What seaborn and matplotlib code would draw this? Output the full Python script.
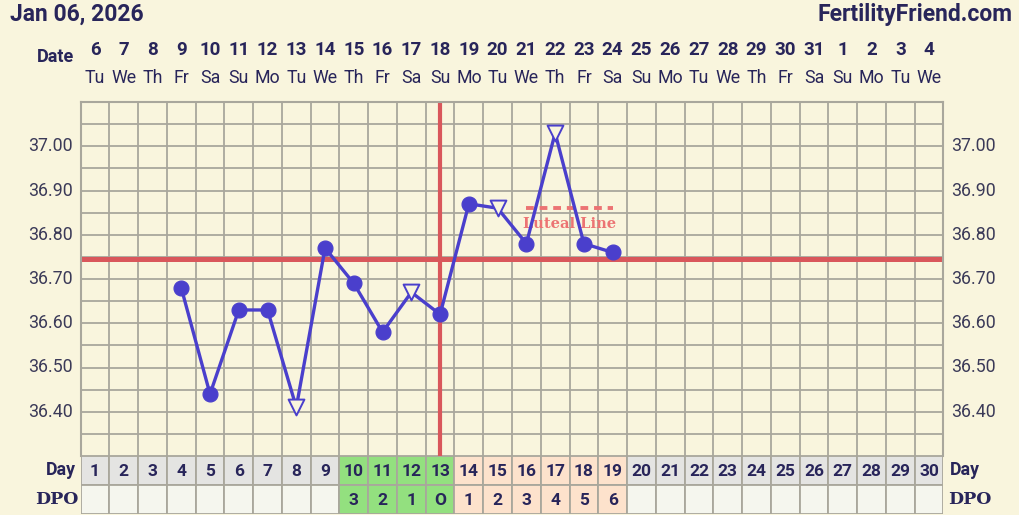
import matplotlib
matplotlib.use("Agg")
import matplotlib.pyplot as plt
import matplotlib.transforms as mtrans
import numpy as np
import pandas as pd
import seaborn as sns

sns.set_theme(style="white")
plt.rcParams["font.family"] = ["Roboto", "DejaVu Sans"]

# ---- data ----
chart_date = "Jan 06, 2026"
site_name = "FertilityFriend.com"
cycle_days = list(range(1, 31))
date_labels = [str(d) for d in range(6, 32)] + ["1", "2", "3", "4"]
weekday_labels = ["Tu", "We", "Th", "Fr", "Sa", "Su", "Mo"] * 4 + ["Tu", "We"]
temp_days = [4, 5, 6, 7, 8, 9, 10, 11, 12, 13, 14, 15, 16, 17, 18, 19]
temps = [36.68, 36.44, 36.63, 36.63, 36.41, 36.77, 36.69, 36.58,
         36.67, 36.62, 36.87, 36.86, 36.78, 37.03, 36.78, 36.76]
open_days = [8, 12, 15, 17]          # open-triangle temps
coverline = 36.745
ovulation_day = 13
luteal_level = 36.86
luteal_days = [16, 19]
fertile_days = [10, 11, 12, 13]
luteal_phase_days = [14, 15, 16, 17, 18, 19]
dpo_labels = {10: "3", 11: "2", 12: "1", 13: "O", 14: "1", 15: "2",
              16: "3", 17: "4", 18: "5", 19: "6"}
ytick_vals = [36.40, 36.50, 36.60, 36.70, 36.80, 36.90, 37.00]

# ---- colours ----
bg = "#f9f5dd"
grid_c = "#a9a79c"
navy = "#28255a"
tick_c = "#3b3a58"
blue = "#4a3fcc"
red = "#d9575b"
pink = "#ec7373"
green = "#93e07f"
peach = "#fde2cc"
day_gray = "#e4e4e2"
dpo_bg = "#f5f6ee"

W, H = 1020, 515
fig = plt.figure(figsize=(W / 100, H / 100), dpi=100, facecolor=bg)

left_px, right_px = 80.6, 943.4
top_px, bot_px = 102, 456
ax = fig.add_axes([left_px / W, 1 - bot_px / H, (right_px - left_px) / W, (bot_px - top_px) / H])
ax.set_facecolor(bg)
ax.set_xlim(0.5, 30.5)
ax.set_ylim(36.30, 37.10)

# grid
for x in np.arange(0.5, 31, 1):
    ax.axvline(x, color=grid_c, lw=1.3, zorder=1)
for y in np.arange(36.30, 37.101, 0.05):
    ax.axhline(y, color=grid_c, lw=1.3, zorder=1)
for s in ax.spines.values():
    s.set_color(grid_c)
    s.set_linewidth(1.5)
ax.spines["bottom"].set_visible(False)

ax.set_xticks([])
ax.set_yticks(ytick_vals)
ax.set_yticklabels([])
ax.tick_params(axis="y", length=0)
ytr = mtrans.blended_transform_factory(fig.transFigure, ax.transData)
for v in ytick_vals:
    ax.text(73 / W, v, f"{v:.2f}", transform=ytr, ha="right", va="center",
            fontsize=12.8, color=tick_c)
    ax.text(951 / W, v, f"{v:.2f}", transform=ytr, ha="left", va="center",
            fontsize=12.8, color=tick_c)

# coverline, ovulation line, luteal line
ax.axhline(coverline, color=red, lw=3.6, zorder=2)
ax.axvline(ovulation_day, color=red, lw=3.0, zorder=2)
ax.plot(luteal_days, [luteal_level] * 2, color=pink, lw=2.8, ls=(0, (2.0, 1.5)), zorder=2)
ax.text(np.mean(luteal_days), luteal_level - 0.035, "Luteal Line", ha="center",
        va="center", fontsize=10.5, fontweight="heavy", color=pink,
        family=["DejaVu Serif"], zorder=2)

# temperatures
df = pd.DataFrame({"day": temp_days, "temp": temps})
df["open"] = df["day"].isin(open_days)
sns.lineplot(data=df, x="day", y="temp", color=blue, lw=2.4, ax=ax, zorder=3)
sns.scatterplot(data=df[~df["open"]], x="day", y="temp", color=blue, s=115,
                edgecolor=blue, ax=ax, zorder=4)
sns.scatterplot(data=df[df["open"]], x="day", y="temp", marker="v", s=130,
                facecolor=bg, edgecolor=blue, linewidth=1.4, ax=ax, zorder=4)
ax.set_xlabel("")
ax.set_ylabel("")

# header texts
xtr = mtrans.blended_transform_factory(ax.transData, fig.transFigure)
for d, lab, wd in zip(cycle_days, date_labels, weekday_labels):
    ax.text(d, 1 - 50 / H, lab, transform=xtr, ha="center", va="center",
            fontsize=13.5, fontweight="bold", color=navy)
    ax.text(d, 1 - 78 / H, wd, transform=xtr, ha="center", va="center",
            fontsize=12.8, color=navy)
fig.text(55 / W, 1 - 57 / H, "Date", ha="center", va="center", fontsize=13,
         fontweight="bold", color=navy)
fig.text(10 / W, 1 - 14 / H, chart_date, ha="left", va="center", fontsize=16.5,
         fontweight="bold", color=navy)
fig.text(1013 / W, 1 - 14 / H, site_name, ha="right", va="center", fontsize=16.5,
         fontweight="bold", color=navy)

# day / DPO table
tax = fig.add_axes([left_px / W, 1 / H, (right_px - left_px) / W, (514 - bot_px) / H])
tax.set_xlim(0.5, 30.5)
tax.set_ylim(2, 0)
tax.axis("off")
day_cols = [green if d in fertile_days else peach if d in luteal_phase_days else day_gray
            for d in cycle_days]
dpo_cols = [green if d in fertile_days else peach if d in luteal_phase_days else dpo_bg
            for d in cycle_days]
tax.bar(cycle_days, 1, bottom=0, width=1, color=day_cols, edgecolor=grid_c, lw=1.3)
tax.bar(cycle_days, 1, bottom=1, width=1, color=dpo_cols, edgecolor=grid_c, lw=1.3)
for d in cycle_days:
    tax.text(d, 0.52, str(d), ha="center", va="center", fontsize=12.5,
             fontweight="bold", color=navy)
    if d in dpo_labels:
        tax.text(d, 1.52, dpo_labels[d], ha="center", va="center", fontsize=12.5,
                 fontweight="bold", color=navy)

fig.text(76 / W, 1 - 470 / H, "Day", ha="right", va="center", fontsize=12.8,
         fontweight="bold", color=navy)
fig.text(78 / W, 1 - 499 / H, "DPO", ha="right", va="center", fontsize=12.5,
         fontweight="bold", color=navy, family=["DejaVu Serif"])
fig.text(950 / W, 1 - 470 / H, "Day", ha="left", va="center", fontsize=12.8,
         fontweight="bold", color=navy)
fig.text(948 / W, 1 - 499 / H, "DPO", ha="left", va="center", fontsize=12.5,
         fontweight="bold", color=navy, family=["DejaVu Serif"])

fig.savefig("out.png", dpi=100, facecolor=bg)
